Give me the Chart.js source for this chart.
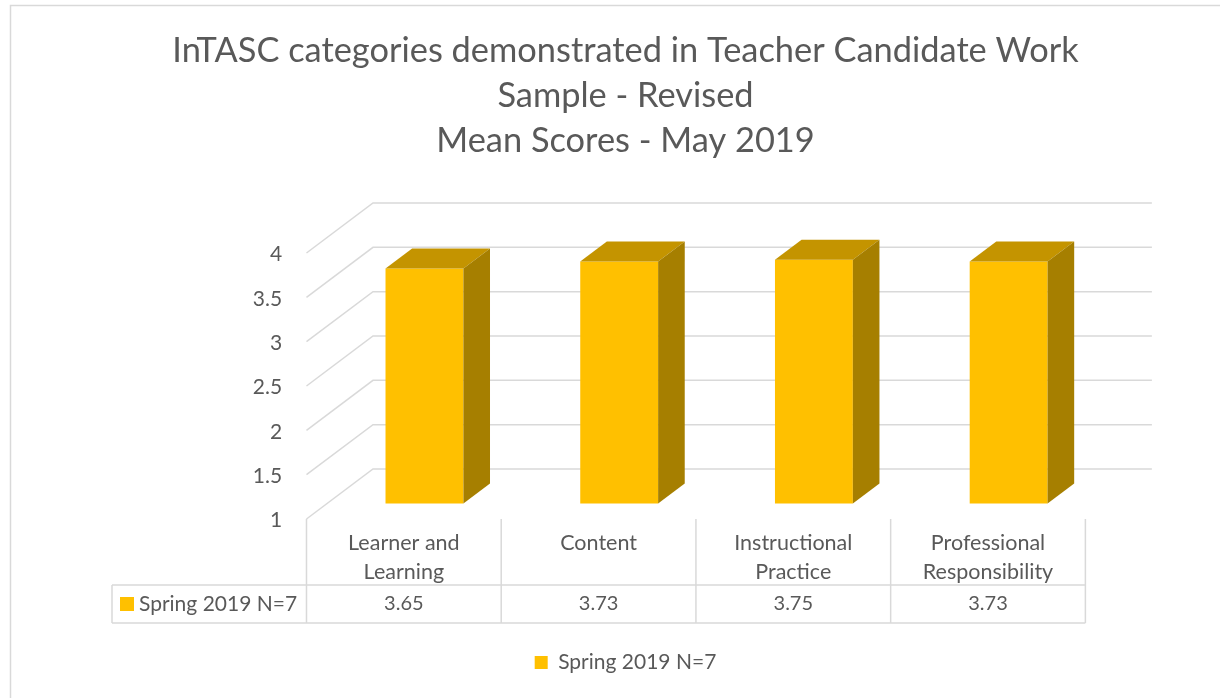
<!DOCTYPE html>
<html>
<head>
<meta charset="utf-8">
<script src="https://cdn.jsdelivr.net/npm/chart.js@4.4.1/dist/chart.umd.min.js"></script>
<style>
  html, body { margin: 0; padding: 0; background: #fff; }
  #wrap { position: relative; width: 1220px; height: 698px; }
</style>
</head>
<body>
<div id="wrap"><canvas id="myChart" width="1220" height="698"></canvas></div>
<script>
// Chart data
const titleLines = ['InTASC categories demonstrated in Teacher Candidate Work', 'Sample - Revised', 'Mean Scores - May 2019'];
const categories = [['Learner and', 'Learning'], 'Content', ['Instructional', 'Practice'], ['Professional', 'Responsibility']];
const seriesName = 'Spring 2019 N=7';
const meanScores = [3.65, 3.73, 3.75, 3.73];
const yMin = 1;
const yMax = 4;
const yStep = 0.5;

// 3D look: depth vector of the floor, bars sit between barFront and barBack
const depth = { x: 66.5, y: -50 };
const barFront = 0.31;
const barBack = 0.71;

const textColor = '#595959';
const lineColor = '#d9d9d9';
const fontFamily = 'Lato, "Open Sans", sans-serif';

// Offset from the bar plane (chart area) back to the front plane
function frontOffset() {
  return { x: -barFront * depth.x, y: -barFront * depth.y };
}

const walls3d = {
  id: 'walls3d',
  beforeDraw(chart) {
    const ctx = chart.ctx;
    ctx.save();
    ctx.fillStyle = '#ffffff';
    ctx.fillRect(0, 0, chart.width, chart.height);
    ctx.strokeStyle = lineColor;
    ctx.lineWidth = 1.5;
    ctx.strokeRect(10.5, 5.5, 1400, 900);
    ctx.restore();
  },
  beforeDatasetsDraw(chart) {
    const ctx = chart.ctx;
    const ca = chart.chartArea;
    const ys = chart.scales.y;
    const off = frontOffset();
    const left = ca.left + off.x;
    const right = ca.right + off.x;
    ctx.save();
    ctx.strokeStyle = lineColor;
    ctx.lineWidth = 1.5;
    ys.ticks.forEach(t => {
      const y = ys.getPixelForValue(t.value) + off.y;
      ctx.beginPath();
      ctx.moveTo(left, y);
      ctx.lineTo(left + depth.x, y + depth.y);
      ctx.lineTo(right + depth.x, y + depth.y);
      ctx.stroke();
    });
    ctx.restore();
  },
  afterDatasetsDraw(chart) {
    const ctx = chart.ctx;
    const sx = (barBack - barFront) * depth.x;
    const sy = (barBack - barFront) * depth.y;
    const bottom = chart.scales.y.getPixelForValue(yMin);
    ctx.save();
    chart.getDatasetMeta(0).data.forEach(bar => {
      const { x, y, width } = bar.getProps(['x', 'y', 'width'], true);
      const l = x - width / 2;
      const r = x + width / 2;
      // top face
      ctx.fillStyle = '#c49400';
      ctx.beginPath();
      ctx.moveTo(l, y);
      ctx.lineTo(r, y);
      ctx.lineTo(r + sx, y + sy);
      ctx.lineTo(l + sx, y + sy);
      ctx.closePath();
      ctx.fill();
      // side face
      ctx.fillStyle = '#a67f00';
      ctx.beginPath();
      ctx.moveTo(r, y);
      ctx.lineTo(r + sx, y + sy);
      ctx.lineTo(r + sx, bottom + sy);
      ctx.lineTo(r, bottom);
      ctx.closePath();
      ctx.fill();
    });
    ctx.restore();
  },
  afterDraw(chart) {
    // data table under the categories
    const ctx = chart.ctx;
    const ca = chart.chartArea;
    const xs = chart.scales.x;
    const ys = chart.scales.y;
    const off = frontOffset();
    const n = categories.length;
    const catW = (ca.right - ca.left) / n;
    const floorY = ys.getPixelForValue(yMin) + off.y;
    const rowTop = 585;
    const rowBottom = 623;
    const tableLeft = 112;
    const bounds = [];
    for (let i = 0; i <= n; i++) bounds.push(ca.left + off.x + i * catW);

    ctx.save();
    ctx.strokeStyle = lineColor;
    ctx.lineWidth = 1.5;
    ctx.beginPath();
    bounds.forEach(bx => {
      ctx.moveTo(bx, floorY);
      ctx.lineTo(bx, rowBottom);
    });
    ctx.moveTo(tableLeft, rowTop);
    ctx.lineTo(bounds[n], rowTop);
    ctx.moveTo(tableLeft, rowBottom);
    ctx.lineTo(bounds[n], rowBottom);
    ctx.moveTo(tableLeft, rowTop);
    ctx.lineTo(tableLeft, rowBottom);
    ctx.stroke();

    const midY = (rowTop + rowBottom) / 2;
    ctx.fillStyle = '#ffc000';
    ctx.fillRect(120, midY - 7, 14, 14);
    ctx.fillStyle = textColor;
    ctx.font = '21px ' + fontFamily;
    ctx.textBaseline = 'middle';
    ctx.textAlign = 'left';
    ctx.fillText(seriesName, 139, midY);
    ctx.font = '20px ' + fontFamily;
    ctx.textAlign = 'center';
    meanScores.forEach((v, i) => {
      const cx = xs.getPixelForValue(i) + off.x;
      ctx.fillText(v.toFixed(2), cx, midY);
    });
    ctx.restore();
  }
};

document.addEventListener('DOMContentLoaded', function() {
  const data = {
    labels: categories,
    datasets: [{
      label: seriesName,
      data: meanScores,
      backgroundColor: '#ffc000',
      borderWidth: 0,
      barPercentage: 0.4,
      categoryPercentage: 1
    }]
  };

  const config = {
    type: 'bar',
    data: data,
    plugins: [walls3d],
    options: {
      responsive: false,
      animation: false,
      layout: {
        padding: { left: 145, right: 114, top: 0, bottom: 15 }
      },
      scales: {
        x: {
          grid: { display: false },
          border: { display: false },
          ticks: {
            color: textColor,
            font: { family: fontFamily, size: 21.5, lineHeight: 1.35 },
            padding: 17,
            labelOffset: -barFront * depth.x,
            autoSkip: false,
            maxRotation: 0,
            minRotation: 0
          },
          afterFit: function(scale) { scale.height = 138.5; }
        },
        y: {
          min: yMin,
          max: yMax,
          grid: { display: false },
          border: { display: false },
          ticks: {
            stepSize: yStep,
            color: textColor,
            font: { family: fontFamily, size: 21 },
            padding: 37,
            labelOffset: 17,
            callback: function(value) { return String(value); }
          },
          afterFit: function(scale) { scale.width = 182.1; }
        }
      },
      plugins: {
        title: {
          display: true,
          text: titleLines,
          color: textColor,
          font: { family: fontFamily, size: 34.4, weight: 'normal', lineHeight: 1.31 },
          padding: { top: 28, bottom: 74.3 }
        },
        legend: {
          display: true,
          position: 'bottom',
          labels: {
            color: textColor,
            font: { family: fontFamily, size: 21 },
            boxWidth: 13,
            boxHeight: 13,
            padding: 10
          }
        },
        tooltip: { enabled: false }
      }
    }
  };

  document.fonts.load('20px Lato').then(function() {
    new Chart(document.getElementById('myChart'), config);
  });
});
</script>
</body>
</html>
